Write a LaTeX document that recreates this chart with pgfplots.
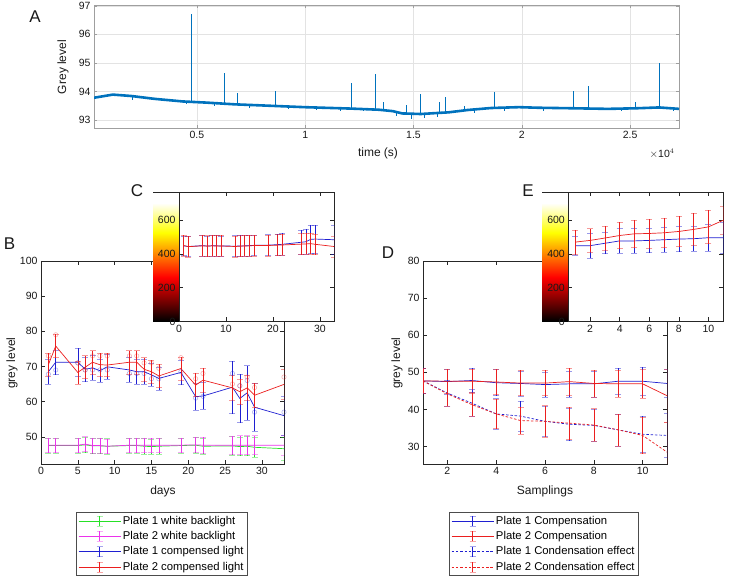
\documentclass[border=0pt]{standalone}
\usepackage{pgfplots}
\pgfplotsset{compat=1.18}
\usepackage{pgfplotstable}
\usepackage{fontspec}
\setmainfont{Liberation Sans}

\definecolor{mblue}{rgb}{0,0.447,0.741}
\definecolor{cB}{rgb}{0.12,0.12,0.82}
\definecolor{cR}{rgb}{0.92,0.12,0.12}
\definecolor{cG}{rgb}{0.15,0.88,0.15}
\definecolor{cM}{rgb}{0.92,0.2,0.92}

% B: days, white backlight (g, m), compensed light (b, r), pale circles bp/rp
\pgfplotstableread{
d   gy   gye  my   mye  by   bye  bp   ry   rye  rp
1   47.5 2.2  47.6 2.1  68.5 3.5  67.8 70.5 3.3  73.0
2   47.5 2.2  47.6 2.1  71.2 3.5  69.0 75.8 3.3  79.0
5   47.5 2.2  47.6 2.1  71.2 4.0  71.0 68.3 3.3  71.0
6   47.7 2.2  47.9 2.1  69.2 3.5  69.0 69.8 3.3  69.0
7   47.4 2.2  47.5 2.1  69.6 3.5  69.0 71.2 3.3  73.0
8   47.4 2.2  47.5 2.1  68.8 3.3  69.0 70.5 3.3  73.0
9   47.3 2.2  47.3 2.1  69.9 3.5  69.0 70.4 3.3  73.0
12  47.5 2.2  47.6 2.1  69.0 3.5  68.0 71.2 3.3  73.0
13  47.5 2.2  47.6 2.1  68.5 3.5  68.0 71.2 3.3  73.0
14  47.3 2.2  47.6 2.1  68.5 3.5  68.0 69.2 3.3  71.0
15  47.2 2.2  47.6 2.1  67.6 3.3  66.5 68.5 3.3  71.0
16  47.3 2.2  47.6 2.1  66.6 3.3  66.5 67.3 3.3  69.5
19  47.5 2.2  47.6 2.1  68.3 3.5  68.5 69.4 3.3  72.5
21  47.6 2.2  47.7 2.1  61.4 3.8  61.0 64.7 3.3  66.5
22  47.3 2.3  47.6 2.3  61.6 3.8  61.5 66.1 3.5  68.0
26  47.4 2.6  47.6 2.6  64.1 7.5  68.0 63.9 3.5  65.0
27  47.2 2.6  47.6 2.7  60.9 6.9  64.5 62.8 3.5  64.5
28  47.3 2.7  47.6 2.7  62.5 7.7  66.0 63.9 3.5  67.0
29  47.0 2.8  47.6 2.7  58.4 6.9  57.0 61.8 3.5  64.0
33  46.6 3.2  47.6 2.8  56.0 5.5  57.0 64.9 4.3  67.0
}\tabB

% C: inset of B
\pgfplotstableread{
d  r   re b   be
1  449 62 447 58
2  442 62 443 58
5  447 62 448 60
6  445 62 446 60
7  447 62 447 62
8  446 62 447 62
9  446 62 446 60
12 443 62 445 62
13 445 62 446 62
14 446 62 447 60
15 447 62 448 60
16 449 62 450 60
19 449 62 451 62
21 451 62 454 62
22 452 62 456 65
26 457 62 468 70
27 458 62 471 75
28 460 62 485 85
29 456 62 487 82
33 443 62 483 88
}\tabC

% D: samplings
\pgfplotstableread{
s  b1   b1e r1   r1e b2   b2e r2   r2e
1  47.7 3.3 47.7 3.3 47.7 3.3 47.7 3.3
2  47.5 3.3 47.6 3.3 44.4 3.5 44.2 3.3
3  47.8 3.3 47.6 3.3 41.7 3.6 41.3 3.2
4  47.2 3.5 47.4 3.4 38.8 4.1 38.8 4.0
5  47.0 3.4 47.1 3.4 38.2 4.0 37.0 3.6
6  46.7 3.4 47.1 3.4 36.8 4.1 36.8 4.2
7  46.9 3.5 47.5 3.6 36.0 4.4 36.3 4.4
8  46.9 3.5 47.0 3.6 35.7 4.3 35.8 4.4
9  47.6 3.6 46.9 3.6 34.5 4.3 34.5 4.3
10 47.6 3.8 46.9 3.8 33.3 4.8 33.0 4.9
11 47.0 3.8 43.7 7.1 33.0 6.0 28.5 8.1
}\tabD

% E: inset of D
\pgfplotstableread{
s  r   re  b   be
1  469 70  448 57
2  479 70  448 72
3  493 70  462 62
4  508 78  476 72
5  518 82  476 72
6  520 85  479 72
7  524 88  483 75
8  532 90  487 75
9  544 95  489 72
10 559 100 495 78
11 598 80  495 90
}\tabE

\pgfplotsset{
  panel/.style={scale only axis, anchor=south west,
    tick align=inside, tick pos=both, major tick length=4pt,
    axis line style={black!85, line width=0.5pt},
    every tick/.style={black!85, line width=0.5pt},
    tick label style={font=\fontsize{10.5}{12}\selectfont, text=black!90},
    /pgf/number format/assume math mode=true},
  ebar/.style={error bars/y dir=both, error bars/y explicit,
    error bars/error mark=|,
    error bars/error bar style={line width=0.6pt, solid},
    error bars/error mark options={mark size=3pt, line width=0.6pt, opacity=0.45, solid}},
  pale/.style={forget plot, only marks, mark=o, mark size=2.2pt,
    opacity=0.35, mark options={solid, line width=0.6pt}},
  leg/.style={legend cell align=left,
    legend style={draw=black!70, fill=white, line width=0.5pt,
      font=\fontsize{11.3}{13}\selectfont, inner sep=2pt, row sep=1.6pt},
    legend image code/.code={
      \draw[##1] (0pt,0pt) -- (42pt,0pt);
      \draw[##1, solid] (21pt,-5pt) -- (21pt,5pt);
      \draw[##1, solid, opacity=0.4] (18pt,-5pt) -- (24pt,-5pt) (18pt,5pt) -- (24pt,5pt);}},
  cbar/.style={scale only axis, anchor=south west, hide axis,
    xmin=0, xmax=1, ymin=0, ymax=765,
    colormap={hotm}{rgb(0cm)=(0,0,0); rgb(3cm)=(1,0,0); rgb(6cm)=(1,1,0); rgb(8cm)=(1,1,1)},
    point meta min=0, point meta max=700}
}

\begin{document}
\begin{tikzpicture}
\useasboundingbox (0,0) rectangle (729pt,578pt);

% ---------------- A ----------------
\begin{axis}[panel, at={(94pt,450pt)}, width=585pt, height=123pt,
    xmin=250, xmax=27260, ymin=92.72, ymax=97.03,
    xtick={5000,10000,15000,20000,25000}, xticklabels={0.5,1,1.5,2,2.5},
    scaled x ticks=false,
    ytick={93,94,95,96,97},
    grid=major, grid style={gray!22, line width=0.4pt},
    axis line style={gray!75}, every tick/.style={gray!75},
    major tick length=3pt, unbounded coords=jump]
\addplot[mblue, line width=2.6pt, line join=round] coordinates {
(250,93.78) (1120,93.89) (1980,93.84) (3060,93.74) (4350,93.65) (5430,93.61)
(6720,93.55) (8020,93.51) (9960,93.45) (12110,93.40) (13400,93.36) (14050,93.31)
(14480,93.23) (15340,93.21) (16640,93.27) (17500,93.35) (18580,93.42) (19870,93.45)
(20730,93.43) (22460,93.41) (23970,93.39) (25260,93.41) (26340,93.44) (27260,93.39)};
\addplot[mblue, line width=0.6pt] coordinates {
(4720,93.63) (4720,96.72) (4720,nan)
(6250,93.57) (6250,94.66) (6250,nan)
(6850,93.54) (6850,93.94) (6850,nan)
(8600,93.49) (8600,94.00) (8600,nan)
(12110,93.40) (12110,94.29) (12110,nan)
(13230,93.37) (13230,94.62) (13230,nan)
(13620,93.35) (13620,93.64) (13620,nan)
(14680,93.22) (14680,93.54) (14680,nan)
(15300,93.21) (15300,93.91) (15300,nan)
(16200,93.25) (16200,93.64) (16200,nan)
(16490,93.26) (16490,93.82) (16490,nan)
(17330,93.34) (17330,93.48) (17330,nan)
(18710,93.42) (18710,93.97) (18710,nan)
(22370,93.41) (22370,94.00) (22370,nan)
(23060,93.40) (23060,94.18) (23060,nan)
(25260,93.41) (25260,93.62) (25260,nan)
(26360,93.44) (26360,95.00) (26360,nan)
(2000,93.84) (2000,93.70) (2000,nan)
(4500,93.64) (4500,93.55) (4500,nan)
(5800,93.60) (5800,93.50) (5800,nan)
(7400,93.53) (7400,93.42) (7400,nan)
(9200,93.47) (9200,93.38) (9200,nan)
(10500,93.44) (10500,93.35) (10500,nan)
(11600,93.41) (11600,93.30) (11600,nan)
(12700,93.38) (12700,93.30) (12700,nan)
(14200,93.29) (14200,93.15) (14200,nan)
(14900,93.22) (14900,93.05) (14900,nan)
(15500,93.21) (15500,93.08) (15500,nan)
(16100,93.24) (16100,93.12) (16100,nan)
(17800,93.37) (17800,93.25) (17800,nan)
(19200,93.44) (19200,93.33) (19200,nan)
(21000,93.43) (21000,93.33) (21000,nan)
(24600,93.40) (24600,93.30) (24600,nan)
(27000,93.40) (27000,93.30) (27000,nan)};
\end{axis}

% ---------------- B ----------------
\begin{axis}[panel, leg, at={(41pt,114pt)}, width=243pt, height=203pt,
    xmin=0, xmax=33, ymin=42.25, ymax=100,
    xtick={0,5,...,30}, ytick={50,60,...,100},
    legend style={at={(0.144,-0.236)}, anchor=north west}]
\addplot[cG, line width=0.7pt, ebar] table[x=d, y=gy, y error=gye] {\tabB};
\addlegendentry{Plate 1 white backlight}
\addplot[cM, line width=0.7pt, ebar] table[x=d, y=my, y error=mye] {\tabB};
\addlegendentry{Plate 2 white backlight}
\addplot[cB, line width=0.7pt, ebar] table[x=d, y=by, y error=bye] {\tabB};
\addlegendentry{Plate 1 compensed light}
\addplot[cR, line width=0.7pt, ebar] table[x=d, y=ry, y error=rye] {\tabB};
\addlegendentry{Plate 2 compensed light}
\addplot[cB, pale] table[x=d, y=bp] {\tabB};
\addplot[cR, pale] table[x=d, y=rp] {\tabB};
\end{axis}

% ---------------- C ----------------
\begin{axis}[cbar, at={(153pt,256.5pt)}, width=26pt, height=129.5pt]
\addplot[surf, shader=interp, point meta=y] coordinates {
(0,0) (1,0)

(0,100) (1,100)

(0,200) (1,200)

(0,300) (1,300)

(0,400) (1,400)

(0,500) (1,500)

(0,600) (1,600)

(0,700) (1,700)
};
\draw[black!85, line width=0.5pt] (rel axis cs:0,1) -- (rel axis cs:1,1);
\end{axis}
\begin{axis}[panel, at={(179pt,256.5pt)}, width=155pt, height=129.5pt,
    xmin=0, xmax=33, ymin=0, ymax=765,
    xtick={0,10,20,30}, ytick={0,200,400,600},
    axis background/.style={fill=white}]
\addplot[cB, line width=0.7pt, ebar] table[x=d, y=b, y error=be] {\tabC};
\addplot[cR, line width=0.7pt, ebar] table[x=d, y=r, y error=re] {\tabC};
\end{axis}

% ---------------- D ----------------
\begin{axis}[panel, leg, at={(423pt,114pt)}, width=244pt, height=203pt,
    xmin=1, xmax=11, ymin=25.3, ymax=80,
    xtick={2,4,...,10}, ytick={30,40,...,80},
    legend style={at={(0.1066,-0.236)}, anchor=north west}]
\addplot[cB, line width=0.7pt, ebar] table[x=s, y=b1, y error=b1e] {\tabD};
\addlegendentry{Plate 1 Compensation}
\addplot[cR, line width=0.7pt, ebar] table[x=s, y=r1, y error=r1e] {\tabD};
\addlegendentry{Plate 2 Compensation}
\addplot[cB, line width=0.7pt, dash pattern=on 2.5pt off 1.8pt, ebar] table[x=s, y=b2, y error=b2e] {\tabD};
\addlegendentry{Plate 1 Condensation effect}
\addplot[cR, line width=0.7pt, dash pattern=on 2.5pt off 1.8pt, ebar] table[x=s, y=r2, y error=r2e] {\tabD};
\addlegendentry{Plate 2 Condensation effect}
\end{axis}

% ---------------- E ----------------
\begin{axis}[cbar, at={(542pt,256.5pt)}, width=26.3pt, height=129.5pt]
\addplot[surf, shader=interp, point meta=y] coordinates {
(0,0) (1,0)

(0,100) (1,100)

(0,200) (1,200)

(0,300) (1,300)

(0,400) (1,400)

(0,500) (1,500)

(0,600) (1,600)

(0,700) (1,700)
};
\draw[black!85, line width=0.5pt] (rel axis cs:0,1) -- (rel axis cs:1,1);
\end{axis}
\begin{axis}[panel, at={(568.3pt,256.5pt)}, width=155pt, height=129.5pt,
    xmin=0.53, xmax=11, ymin=0, ymax=765,
    xtick={2,4,...,10}, ytick={0,200,400,600},
    axis background/.style={fill=white}]
\addplot[cB, line width=0.7pt, ebar] table[x=s, y=b, y error=be] {\tabE};
\addplot[cR, line width=0.7pt, ebar] table[x=s, y=r, y error=re] {\tabE};
\end{axis}

% ---------------- labels ----------------
\begin{scope}[every node/.style={inner sep=0pt, text=black!90}]
\node[font=\fontsize{17}{20}\selectfont] at (35pt,561pt) {A};
\node[font=\fontsize{17}{20}\selectfont] at (9.5pt,334.7pt) {B};
\node[font=\fontsize{17}{20}\selectfont] at (137pt,387pt) {C};
\node[font=\fontsize{17}{20}\selectfont] at (388pt,325pt) {D};
\node[font=\fontsize{17}{20}\selectfont] at (528pt,387pt) {E};
\node[font=\fontsize{12}{14}\selectfont, rotate=90] at (63pt,511pt) {Grey level};
\node[font=\fontsize{12}{14}\selectfont] at (378pt,425pt) {time (s)};
\node[font=\fontsize{10.5}{12}\selectfont] at (662pt,424pt) {$\times$10$^{4}$};
\node[font=\fontsize{12}{14}\selectfont, rotate=90] at (12pt,215pt) {grey level};
\node[font=\fontsize{12}{14}\selectfont] at (163pt,87pt) {days};
\node[font=\fontsize{12}{14}\selectfont, rotate=90] at (397pt,215pt) {grey level};
\node[font=\fontsize{12}{14}\selectfont] at (545pt,87pt) {Samplings};
\end{scope}
\end{tikzpicture}
\end{document}
